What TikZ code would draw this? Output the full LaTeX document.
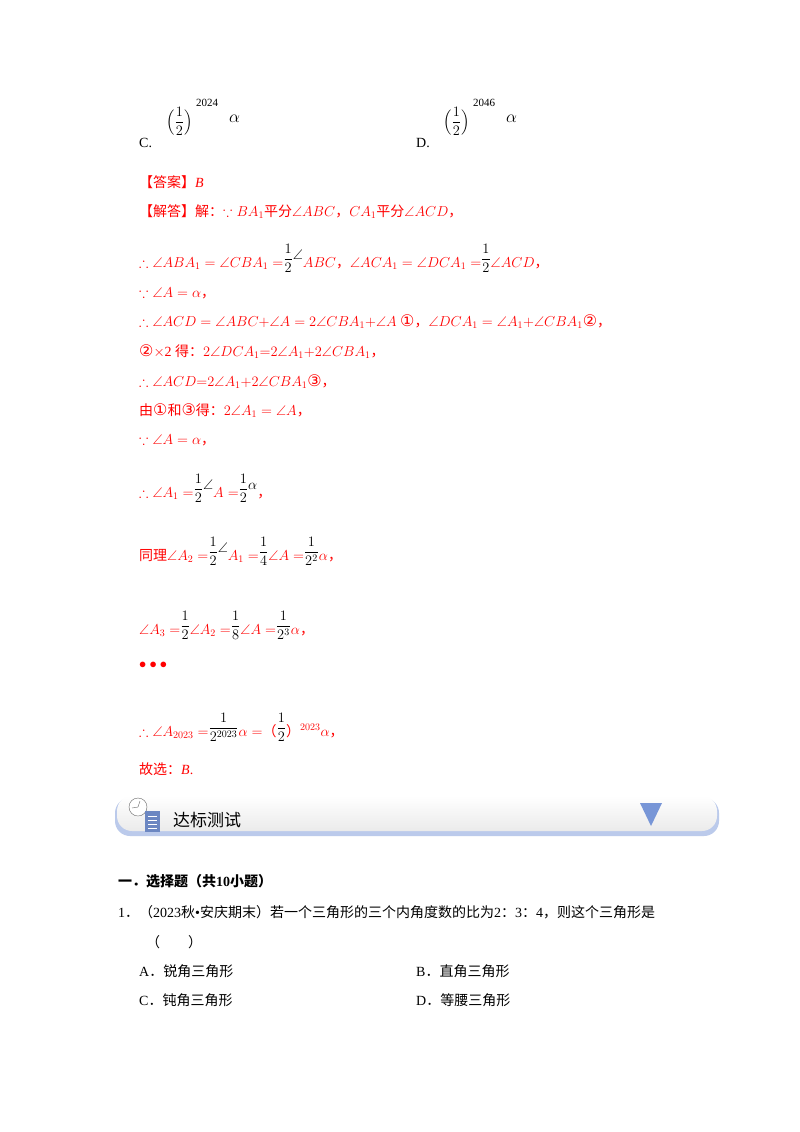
\documentclass[tikz,border=0pt]{standalone}
\usepackage{amsmath,amssymb}
\usepackage{fontspec}
\setmainfont{Liberation Serif}
\newfontfamily\cjk{Noto Sans CJK SC}
\newfontfamily\djfont{DejaVu Sans}
\newcommand{\zh}[1]{{\cjk #1}}
\newcommand{\cn}[1]{{\djfont\fontsize{16}{16}\selectfont #1}}
\newcommand{\bk}[1]{\textcolor{black}{#1}}
\newcommand{\bfr}[2]{\textcolor{black}{\raisebox{4pt}{$\dfrac{#1}{#2}$}}}
\definecolor{ansred}{RGB}{255,0,0}
\definecolor{banblue}{RGB}{120,150,215}
\begin{document}
\begin{tikzpicture}[x=1pt,y=-1pt,
  line/.style={anchor=base west,inner sep=0pt,font=\fontsize{14}{16}\selectfont},
  red/.style={line,text=ansred},
  blk/.style={line,text=black}]
\useasboundingbox (0,0) rectangle (800,1132);
\fill[white] (0,0) rectangle (800,1132);
% options C D
\node[blk] (c) at (139,147) {C.};
\node[blk,font=\fontsize{14}{14}\selectfont] (cf) at (166,126) {$\Bigl(\dfrac{1}{2}\Bigr)$};
\node[blk,font=\fontsize{11}{12}\selectfont] (ce) at (196,106) {2024};
\node[blk,font=\fontsize{18}{18}\selectfont] (ca) at (229,122) {$\alpha$};
\node[blk] (d) at (416,147) {D.};
\node[blk,font=\fontsize{14}{14}\selectfont] (df) at (443,126) {$\Bigl(\dfrac{1}{2}\Bigr)$};
\node[blk,font=\fontsize{11}{12}\selectfont] (de) at (473,106) {2046};
\node[blk,font=\fontsize{18}{18}\selectfont] (da) at (506,122) {$\alpha$};
% answer
\node[red] (l1) at (139,187) {\zh{【答案】}\textit{B}};
\node[red] (l2) at (139,216) {\zh{【解答】解：}$\because BA_1$\zh{平分}$\angle ABC$\zh{，}$CA_1$\zh{平分}$\angle ACD$\zh{，}};
\node[red] (l3) at (139,267) {$\therefore\angle ABA_1=\angle CBA_1=$\bfr{1}{2}\raisebox{8pt}{\bk{$\angle$}}$ABC$\zh{，}$\angle ACA_1=\angle DCA_1=$\bfr{1}{2}$\angle ACD$\zh{，}};
\node[red] (l4) at (139,297) {$\because\angle A=\alpha$\zh{，}};
\node[red] (l5) at (139,326) {$\therefore\angle ACD=\angle ABC{+}\angle A=2\angle CBA_1{+}\angle A$ \cn{①}\zh{，}$\angle DCA_1=\angle A_1{+}\angle CBA_1$\cn{②}\zh{，}};
\node[red] (l6) at (139,356) {\cn{②}$\times$2 \zh{得：}$2\angle DCA_1{=}2\angle A_1{+}2\angle CBA_1$\zh{，}};
\node[red] (l7) at (139,386) {$\therefore\angle ACD{=}2\angle A_1{+}2\angle CBA_1$\cn{③}\zh{，}};
\node[red] (l8) at (139,415) {\zh{由}\cn{①}\zh{和}\cn{③}\zh{得：}$2\angle A_1=\angle A$\zh{，}};
\node[red] (l9) at (139,444) {$\because\angle A=\alpha$\zh{，}};
\node[red] (l10) at (139,497) {$\therefore\angle A_1=$\bfr{1}{2}\raisebox{8pt}{\bk{$\angle$}}$A=$\bfr{1}{2}\raisebox{8pt}{\bk{$\alpha$}}\zh{，}};
\node[red] (l11) at (139,560) {\zh{同理}$\angle A_2=$\bfr{1}{2}\raisebox{8pt}{\bk{$\angle$}}$A_1=$\bfr{1}{4}$\angle A=$\bfr{1}{2^2}$\alpha$\zh{，}};
\node[red] (l12) at (139,634) {$\angle A_3=$\bfr{1}{2}$\angle A_2=$\bfr{1}{8}$\angle A=$\bfr{1}{2^3}$\alpha$\zh{，}};
\node[red] (l13) at (139,668) {$\bullet\bullet\bullet$};
\node[red] (l14) at (139,736) {$\therefore\angle A_{2023}=$\bfr{1}{2^{2023}}$\alpha=$\zh{（}\bfr{1}{2}\zh{）}$^{2023}\alpha$\zh{，}};
\node[red] (l15) at (139,774) {\zh{故选：}\textit{B}.};
% banner
\fill[rounded corners=15pt,banblue!50] (115,798) rectangle (719,836);
\shade[rounded corners=15pt,top color=white,bottom color=black!8] (117,796) rectangle (717,831);
\fill[banblue] (640,803) -- (662,803) -- (651,826) -- cycle;
\node[blk,font=\fontsize{17}{18}\selectfont\cjk] (ban) at (173,826) {达标测试};
\draw[black!60,fill=white] (138,807) circle (9);
\draw[black!60] (138,807) -- (132,808) (138,807) -- (140,801);
\fill[banblue!90!black] (145,811) rectangle (160,832);
\foreach \yy in {816,820,824,828} \draw[white,thin] (148,\yy) -- (157,\yy);
% questions
\node[blk,font=\fontsize{14}{16}\selectfont\bfseries] (s1) at (118,886) {\zh{\bfseries 一．选择题（共}10\zh{\bfseries 小题）}};
\node[blk] (q1) at (118,917) {1\zh{．（}2023\zh{秋}•\zh{安庆期末）若一个三角形的三个内角度数的比为}2\zh{：}3\zh{：}4\zh{，则这个三角形是}};
\node[blk] (q1b) at (146,947) {\zh{（　　）}};
\node[blk] (qa) at (139,976) {A\zh{．锐角三角形}};
\node[blk] (qb) at (416,976) {B\zh{．直角三角形}};
\node[blk] (qc) at (139,1005) {C\zh{．钝角三角形}};
\node[blk] (qd) at (416,1005) {D\zh{．等腰三角形}};
\end{tikzpicture}
\end{document}
